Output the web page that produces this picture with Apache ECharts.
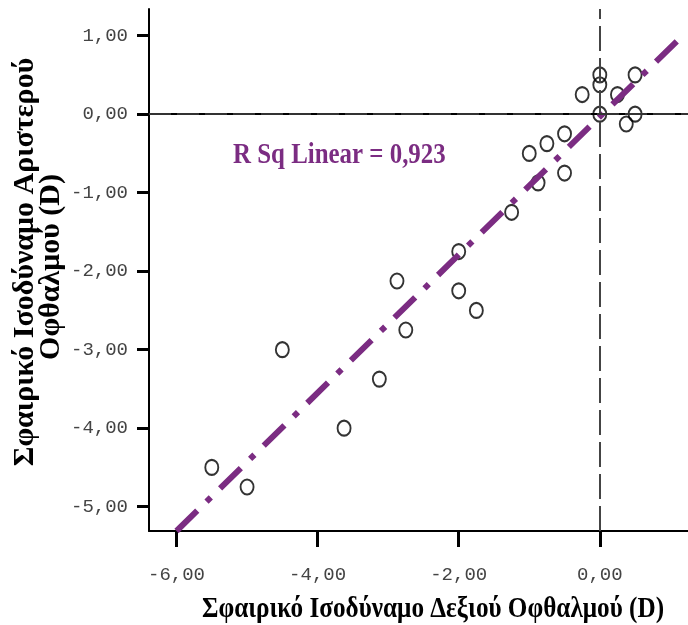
<!DOCTYPE html>
<html>
<head>
<meta charset="utf-8">
<script src="https://cdn.jsdelivr.net/npm/echarts@6/dist/echarts.min.js"></script>
<style>
html, body { margin: 0; padding: 0; background: #fff; }
#main { width: 688px; height: 625px; }
</style>
</head>
<body>
<div id="main"></div>
<script>
// right eye (x) / left eye (y) spherical equivalent
var rightEye = [-5.5, -5.0, -4.5, -3.625, -3.125, -2.875, -2.75, -2.0, -2.0, -1.75,
    -1.25, -1.0, -0.875, -0.75, -0.5, -0.5, -0.25, 0, 0, 0, 0.25, 0.375, 0.5, 0.5];
var leftEye = [-4.5, -4.75, -3.0, -4.0, -3.375, -2.125, -2.75, -1.75, -2.25, -2.5,
    -1.25, -0.5, -0.875, -0.375, -0.25, -0.75, 0.25, 0, 0.375, 0.5, 0.25, -0.125, 0.5, 0];
// fit line ends
var fitX = [-6.0, 1.15];
var fitY = [-5.31, 0.98];
var xTicks = [-6, -4, -2, 0];
var yTicks = [1, 0, -1, -2, -3, -4, -5];
var rSqText = 'R Sq Linear = 0,923';
var xTitle = 'Σφαιρικό Ισοδύναμο Δεξιού Οφθαλμού (D)';
var yTitle = ['Σφαιρικό Ισοδύναμο Αριστερού', 'Οφθαλμού (D)'];

var pts = [];
for (var i = 0; i < rightEye.length; i++) {
    pts.push([rightEye[i], leftEye[i]]);
}
var fit = [];
for (var j = 0; j < fitX.length; j++) {
    fit.push([fitX[j], fitY[j]]);
}

function fmt(v) { // 1 -> "1,00"
    return v.toFixed(2).replace('.', ',');
}

var monoFont = '"Liberation Mono", "DejaVu Sans Mono", monospace';
var serifFont = '"Liberation Serif", "DejaVu Serif", serif';

var option = {
    animation: false,
    grid: { left: 149, top: 9, right: 0, bottom: 94 },
    xAxis: [{
        type: 'value',
        min: -6.39, max: 1.25,
        interval: 2,
        axisLine: { show: true, onZero: false, lineStyle: { color: '#000', width: 2 } },
        axisTick: { show: true, length: 16, lineStyle: { color: '#000', width: 3 },
            customValues: xTicks },
        axisLabel: { margin: 34, color: '#444', fontSize: 19, fontFamily: monoFont,
            customValues: xTicks, formatter: fmt },
        splitLine: { show: false }
    }, {
        type: 'value', position: 'top',
        min: -6.39, max: 1.25,
        axisLine: { show: true, lineStyle: { color: '#000', width: 2 } },
        axisTick: { show: false }, axisLabel: { show: false }, splitLine: { show: false }
    }],
    yAxis: {
        type: 'value',
        min: -5.31, max: 1.34,
        axisLine: { show: true, onZero: false, lineStyle: { color: '#000', width: 2 } },
        axisTick: { show: true, length: 12, lineStyle: { color: '#000', width: 3 },
            customValues: yTicks },
        axisLabel: { margin: 21, color: '#444', fontSize: 19, fontFamily: monoFont,
            customValues: yTicks, formatter: fmt },
        splitLine: { show: false }
    },
    series: [{
        type: 'scatter',
        data: pts,
        symbol: 'circle',
        symbolSize: [13, 15],
        itemStyle: { color: 'rgba(0,0,0,0)', borderColor: '#000', borderWidth: 2 },
        z: 2,
        markLine: {
            silent: true,
            symbol: 'none',
            label: { show: false },
            data: [
                { xAxis: 0, lineStyle: { color: '#444', width: 2, type: [25, 7] } },
                { yAxis: 0, lineStyle: { color: '#333', width: 2, type: [22, 6] } }
            ]
        }
    }, {
        type: 'line',
        data: fit,
        symbol: 'none',
        z: 3,
        lineStyle: { color: '#7B2C82', width: 6, type: [29, 13, 6, 13], cap: 'butt' }
    }],
    graphic: [{
        type: 'text',
        x: 233, y: 155, scaleX: 0.83,
        style: { text: rSqText, fill: '#7B2C82', font: 'bold 30px ' + serifFont,
            textAlign: 'left', textVerticalAlign: 'middle' }
    }, {
        type: 'text',
        x: 433, y: 609, scaleX: 0.84,
        style: { text: xTitle, fill: '#000', font: 'bold 30px ' + serifFont,
            textAlign: 'center', textVerticalAlign: 'middle' }
    }, {
        type: 'text',
        x: 25, y: 262, rotation: Math.PI / 2,
        style: { text: yTitle[0], fill: '#000', font: 'bold 30px ' + serifFont,
            textAlign: 'center', textVerticalAlign: 'middle' }
    }, {
        type: 'text',
        x: 51, y: 267, rotation: Math.PI / 2,
        style: { text: yTitle[1], fill: '#000', font: 'bold 30px ' + serifFont,
            textAlign: 'center', textVerticalAlign: 'middle' }
    }]
};

var myChart = echarts.init(document.getElementById('main'));
myChart.setOption(option);
</script>
</body>
</html>
